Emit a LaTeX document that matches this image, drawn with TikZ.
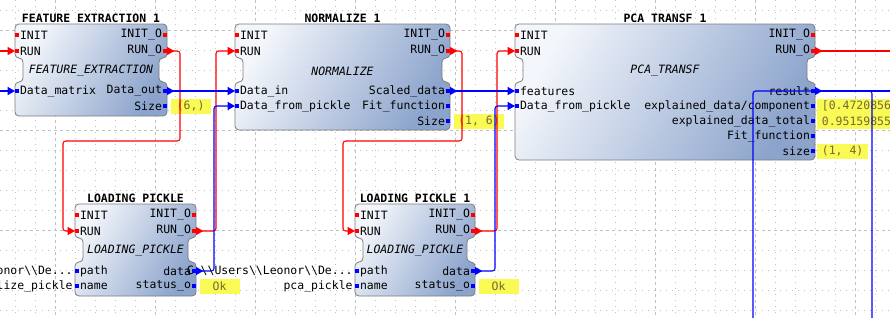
\documentclass[tikz,border=0pt]{standalone}
\usepackage{fontspec}
\setmonofont{DejaVu Sans Mono}
\usetikzlibrary{positioning,arrows.meta}

\definecolor{blkL}{RGB}{243,246,251}
\definecolor{blkR}{RGB}{140,164,204}
\definecolor{blkE}{RGB}{125,125,125}
\definecolor{gridc}{RGB}{192,192,192}
\definecolor{valbg}{RGB}{250,250,85}
\definecolor{valtx}{RGB}{118,104,52}

\newcommand{\bsl}{\textbackslash}
\newcommand{\mlfont}{\ttfamily\fontsize{8.6}{10}\selectfont}

% block outline with the two side notches
\newcommand{\mlblock}[4]{%
  \shadedraw[blk] (#1+20,#2) -- (#3,#2) -- (#3,#2+34) -- (#3-8,#2+34) -- (#3-8,#2+58)
    -- (#3,#2+58) -- (#3,#4) -- (#1,#4) -- (#1,#2+58) -- (#1+8,#2+58)
    -- (#1+8,#2+34) -- (#1,#2+34) -- (#1,#2) -- cycle;}

\tikzset{
  blk/.style={draw=blkE,line width=0.6pt,rounded corners=3pt,
              left color=blkL,right color=blkR,shading angle=60},
  minorgrid/.style={gridc,line width=0.7pt,dash pattern=on 0.75pt off 3.75pt},
  majorgrid/.style={gridc,line width=0.7pt,dash pattern=on 2.25pt off 2.25pt},
  ttl/.style={font=\mlfont\bfseries,anchor=south,inner sep=1pt},
  ctr/.style={font=\mlfont\itshape,inner sep=1pt},
  plbl/.style={font=\mlfont,inner sep=0.6pt},
  lin/.style={label={[plbl,anchor=west]east:#1}},
  lout/.style={label={[plbl,anchor=east]west:#1}},
  cp/.style={fill=red,minimum size=3pt,inner sep=0pt,outer sep=0pt},
  dp/.style={fill=blue,minimum size=3pt,inner sep=0pt,outer sep=0pt},
  val/.style={fill=valbg,text=valtx,font=\mlfont,minimum width=30pt,
              minimum height=11.25pt,inner xsep=3.5pt,inner ysep=0pt},
  ext/.style={font=\mlfont,inner sep=0.6pt},
  rwire/.style={draw=red,line width=0.8pt,rounded corners=2pt},
  bwire/.style={draw=blue,line width=0.8pt,rounded corners=2pt},
  tio/.style={{Triangle[reversed,length=5.5pt,width=6pt]}-{Triangle[length=5.5pt,width=6pt]}},
  tin/.style={-{Triangle[length=5.5pt,width=6pt]}},
  tout/.style={{Triangle[reversed,length=5.5pt,width=6pt]}-}
}

\begin{document}
\begin{tikzpicture}[x=0.75pt,y=-0.75pt,font=\mlfont]
\useasboundingbox (0,0) rectangle (890,318);
\clip (0,0) rectangle (890,318);
\fill[white] (0,0) rectangle (890,318);

% grid
\foreach \gx in {15,35,...,875} \draw[minorgrid] (\gx,0) -- (\gx,318);
\foreach \gy in {10,30,...,310} \draw[minorgrid] (0,\gy) -- (890,\gy);
\foreach \gx in {55,155,...,855} \draw[majorgrid] (\gx,0) -- (\gx,318);
\foreach \gy in {30,130,230} \draw[majorgrid] (0,\gy) -- (890,\gy);

% blocks with their control ports
\foreach \b/\xl/\xr/\yt/\yb/\tname/\cname in {
    fe/15/167/24/116/{FEATURE EXTRACTION 1}/{FEATURE\_EXTRACTION},
    nm/235/450/24/130/{NORMALIZE 1}/{NORMALIZE},
    pca/515/815/24/160/{PCA TRANSF 1}/{PCA\_TRANSF},
    lp/75/196/204/296/{LOADING PICKLE}/{LOADING\_PICKLE},
    lp1/355/475/204/296/{LOADING PICKLE 1}/{LOADING\_PICKLE}}{
  \mlblock{\xl}{\yt}{\xr}{\yb}
  \node[ttl] (\b-t) at ({(\xl+\xr)/2},\yt) {\tname};
  \node[ctr] (\b-c) at ({(\xl+\xr)/2},\yt+47) {\cname};
  \node[cp,lin=INIT] (\b-init) at (\xl+2,\yt+11) {};
  \node[cp,lin=RUN] (\b-run) at (\xl+2,\yt+27) {};
  \node[cp,lout=INIT\_O] (\b-initO) at (\xr-2,\yt+11) {};
  \node[cp,lout=RUN\_O] (\b-runO) at (\xr-2,\yt+27) {};
}

% data ports
\node[dp,lin=Data\_matrix] (fe-dm) at (17,91) {};
\node[dp,lout=Data\_out] (fe-dout) at (165,91) {};
\node[dp,lout=Size] (fe-size) at (165,106) {};

\node[dp,lin=Data\_in] (nm-din) at (237,91) {};
\node[dp,lin=Data\_from\_pickle] (nm-dfp) at (237,106) {};
\node[dp,lout=Scaled\_data] (nm-sd) at (448,91) {};
\node[dp,lout=Fit\_function] (nm-fit) at (448,106) {};
\node[dp,lout=Size] (nm-size) at (448,121) {};

\node[dp,lin=features] (pca-feat) at (517,91) {};
\node[dp,lin=Data\_from\_pickle] (pca-dfp) at (517,106) {};
\node[dp,lout=result] (pca-res) at (813,91) {};
\node[dp,lout=explained\_data/component] (pca-edc) at (813,106) {};
\node[dp,lout=explained\_data\_total] (pca-edt) at (813,121) {};
\node[dp,lout=Fit\_function] (pca-fit) at (813,136) {};
\node[dp,lout=size] (pca-size) at (813,151) {};

\node[dp,lin=path] (lp-path) at (77,271) {};
\node[dp,lin=name] (lp-name) at (77,286) {};
\node[dp,lout=data] (lp-data) at (194,271) {};
\node[dp,lout=status\_o] (lp-st) at (194,286) {};

\node[dp,lin=path] (lp1-path) at (357,271) {};
\node[dp,lin=name] (lp1-name) at (357,286) {};
\node[dp,lout=data] (lp1-data) at (473,271) {};
\node[dp,lout=status\_o] (lp1-st) at (473,286) {};

% constants and displayed values
\node[ext,left=1pt of lp-path] (lp-pathv) {C:\bsl\bsl{}Users\bsl\bsl{}Leonor\bsl\bsl{}De...};
\node[ext,left=1pt of lp-name] (lp-namev) {normalize\_pickle};
\node[ext,left=1pt of lp1-path] (lp1-pathv) {C:\bsl\bsl{}Users\bsl\bsl{}Leonor\bsl\bsl{}De...};
\node[ext,left=1pt of lp1-name] (lp1-namev) {pca\_pickle};

\node[val,right=2.5pt of fe-size] (fe-sizev) {(6,)};
\node[val,right=2.5pt of nm-size] (nm-sizev) {(1, 6)};
\node[val,right=1.5pt of pca-edc] (pca-edcv) {[0.4720856};
\node[val,right=1.5pt of pca-edt] (pca-edtv) {0.95159855};
\node[val,right=1.5pt of pca-size] (pca-sizev) {(1, 4)};
\node[val,right=2.5pt of lp-st] (lp-stv) {Ok};
\node[val,right=2.5pt of lp1-st] (lp1-stv) {Ok};

% free wire ends
\coordinate (inRun) at (0,51);
\coordinate (inData) at (0,91);
\coordinate (outRun) at (890,51);
\coordinate (outRes) at (890,91);
\coordinate (tapA) at (753,318);
\coordinate (tapB) at (872,318);

% run chain
\draw[rwire,tin] (inRun) -- (fe-run.west);
\draw[rwire,tio] (fe-runO.east) -- (180,51) -- (180,141) -- (63,141) -- (63,231) -- (lp-run.west);
\draw[rwire,tio] (lp-runO.east) -- (216,231) -- (216,51) -- (nm-run.west);
\draw[rwire,tio] (nm-runO.east) -- (462,51) -- (462,141) -- (343,141) -- (343,231) -- (lp1-run.west);
\draw[rwire,tio] (lp1-runO.east) -- (497,231) -- (497,51) -- (pca-run.west);
\draw[rwire,tout] (pca-runO.east) -- (outRun);

% data flow
\draw[bwire,tin] (inData) -- (fe-dm.west);
\draw[bwire,tio] (fe-dout.east) -- (nm-din.west);
\draw[bwire,tio] (lp-data.east) -- (214,271) -- (214,106) -- (nm-dfp.west);
\draw[bwire,tio] (nm-sd.east) -- (pca-feat.west);
\draw[bwire,tio] (lp1-data.east) -- (495,271) -- (495,106) -- (pca-dfp.west);
\draw[bwire,tout] (pca-res.east) -- (outRes);
\draw[bwire] (pca-res.east) -- (753,91) -- (tapA);
\draw[bwire] (pca-res.east) -- (872,91) -- (tapB);
\end{tikzpicture}
\end{document}
